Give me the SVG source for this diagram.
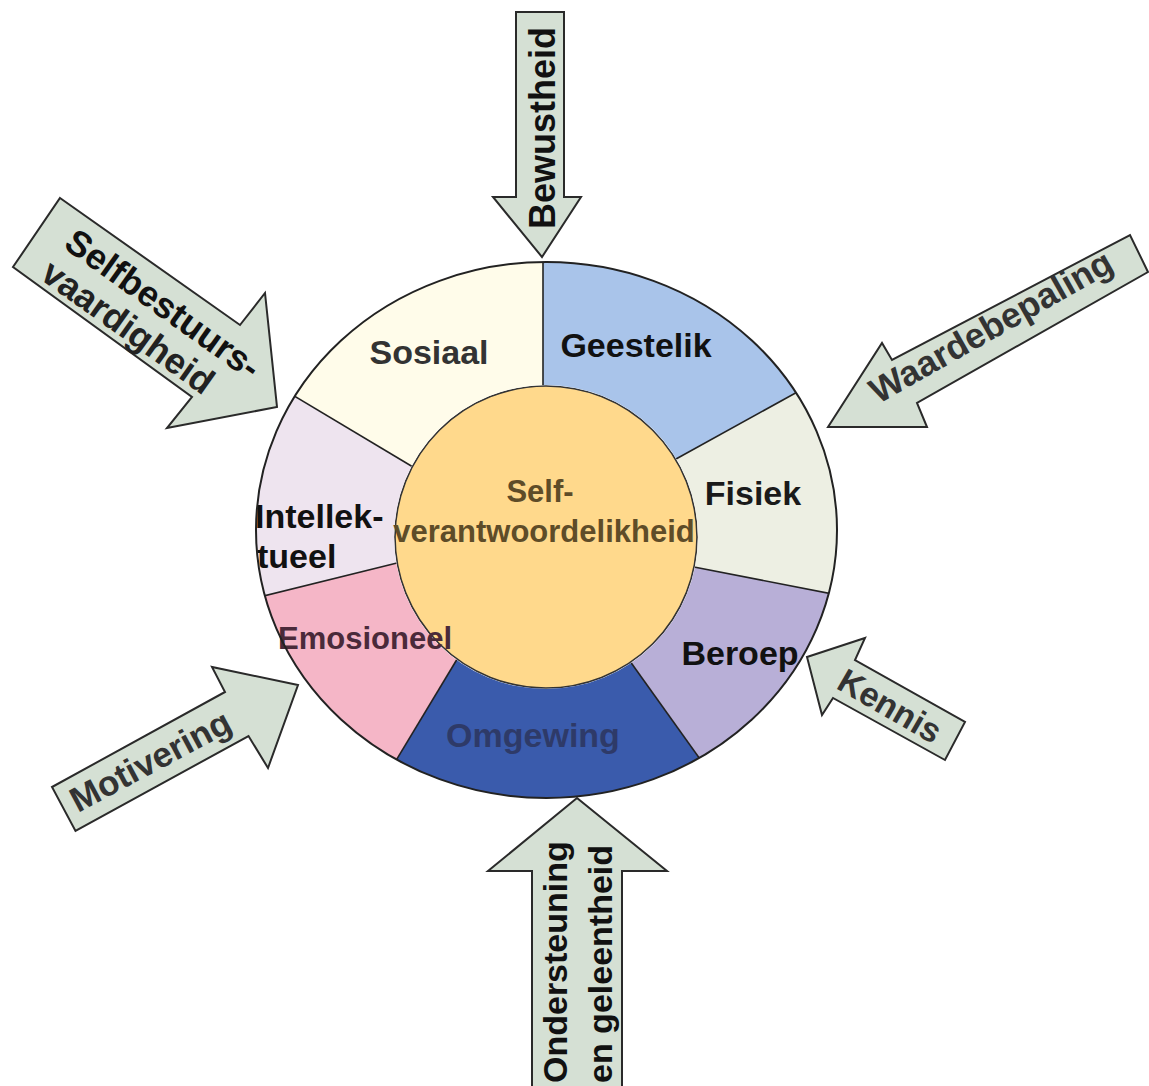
<svg xmlns="http://www.w3.org/2000/svg" width="1149" height="1086" viewBox="0 0 1149 1086">
<style>
.lbl{font-family:"Liberation Sans",Arial,Helvetica,sans-serif;font-weight:bold;font-size:34px;}
.mid{text-anchor:middle}
.arrow{fill:#D5E0D4;stroke:#2a2a2a;stroke-width:2;stroke-linejoin:miter}
.div{stroke:#222;stroke-width:1.6;fill:none}
.seg{stroke:none}
</style>
<defs>
<clipPath id="ring">
  <path clip-rule="evenodd" d="M256,530 a290.5,268 0 1,0 581,0 a290.5,268 0 1,0 -581,0 Z M394,537 a152,152 0 1,0 304,0 a152,152 0 1,0 -304,0 Z"/>
</clipPath>
</defs>
<rect width="1149" height="1086" fill="#ffffff"/>

<g id="center">
  <circle cx="546" cy="537" r="151" fill="#FFD98C" stroke="#333" stroke-width="1.6"/>
</g>

<g id="wheel">
  <g id="seg-geestelik">
    <polygon class="seg" clip-path="url(#ring)" fill="#A9C4EA" points="543,406 543,-238 1234,150 658.5,468.7"/>
    <text class="lbl mid" x="636" y="357" fill="#111">Geestelik</text>
  </g>
  <g id="seg-fisiek">
    <polygon class="seg" clip-path="url(#ring)" fill="#EDEFE3" points="658.5,468.7 1234,150 1325,689 674.4,563.2"/>
    <text class="lbl mid" x="753" y="505" fill="#1a1a1a">Fisiek</text>
  </g>
  <g id="seg-beroep">
    <polygon class="seg" clip-path="url(#ring)" fill="#B8AFD7" points="674.4,563.2 1325,689 989,1165 615.4,640.7"/>
    <text class="lbl mid" x="740" y="665" fill="#111">Beroep</text>
  </g>
  <g id="seg-omgewing">
    <polygon class="seg" clip-path="url(#ring)" fill="#3A5BAC" points="615.4,640.7 989,1165 143,1180 469.3,638.9"/>
    <text class="lbl mid" x="533" y="747" fill="#2E3A68">Omgewing</text>
  </g>
  <g id="seg-emosioneel">
    <polygon class="seg" clip-path="url(#ring)" fill="#F5B6C7" points="469.3,638.9 143,1180 -227,717 416.4,558.2"/>
    <text class="lbl mid" x="365" y="649" fill="#4A2A3A" style="font-size:31px">Emosioneel</text>
  </g>
  <g id="seg-intellektueel">
    <polygon class="seg" clip-path="url(#ring)" fill="#EEE4EF" points="416.4,558.2 -227,717 -140,137 430.2,477.2"/>
    <text class="lbl" x="255" y="528" fill="#111">Intellek-</text>
    <text class="lbl" x="257" y="568" fill="#111">tueel</text>
  </g>
  <g id="seg-sosiaal">
    <polygon class="seg" clip-path="url(#ring)" fill="#FFFCEA" points="430.2,477.2 -140,137 543,-238 543,406"/>
    <text class="lbl mid" x="429" y="364" fill="#333">Sosiaal</text>
  </g>
  <g id="dividers" clip-path="url(#ring)">
    <line class="div" x1="543" y1="386" x2="543" y2="200"/>
    <line class="div" x1="676" y1="459" x2="857" y2="359"/>
    <line class="div" x1="694" y1="567" x2="894" y2="606"/>
    <line class="div" x1="627" y1="657" x2="735" y2="808"/>
    <line class="div" x1="459" y1="656" x2="371" y2="802"/>
    <line class="div" x1="397" y1="563" x2="199" y2="612"/>
    <line class="div" x1="413" y1="467" x2="229" y2="357"/>
  </g>
  <ellipse cx="546.5" cy="530" rx="290.5" ry="268" fill="none" stroke="#222" stroke-width="2"/>
</g>

<g id="center-label">
  <text class="lbl mid" x="540" y="502" fill="#5E4C28" style="font-size:31px">Self-</text>
  <text class="lbl mid" x="544" y="542" fill="#5E4C28" style="font-size:31px">verantwoordelikheid</text>
</g>

<g id="connectors">
  <g id="arrow-bewustheid">
    <polygon class="arrow" points="516,12 564,12 564,197 581,197 542,257 493,197 516,197"/>
    <text class="lbl mid" transform="translate(555,128) rotate(-90)" fill="#111" style="font-size:36px">Bewustheid</text>
  </g>
  <g id="arrow-ondersteuning">
    <polygon class="arrow" points="577,798 667,871 622,871 622,1090 532,1090 532,871 488,871"/>
    <text class="lbl" transform="translate(567,1083) rotate(-90)" fill="#111">Ondersteuning</text>
    <text class="lbl" transform="translate(612,1083) rotate(-90)" fill="#111">en geleentheid</text>
  </g>
  <g id="arrow-selfbestuur">
    <polygon class="arrow" points="60,198 240,325 265,293 277,407 167,428 192,397 13,267"/>
    <text class="lbl mid" transform="translate(156,314) rotate(35.5)" fill="#111" style="font-size:36px">Selfbestuurs-</text>
    <text class="lbl mid" transform="translate(121,337) rotate(35.5)" fill="#222" style="font-size:36px">vaardigheid</text>
  </g>
  <g id="arrow-waardebepaling">
    <polygon class="arrow" points="828,427 882,343 892,360 1130,235 1148,272 917,403 927,427"/>
    <text class="lbl mid" transform="translate(997,337) rotate(-29.5)" fill="#333" style="font-size:35.5px">Waardebepaling</text>
  </g>
  <g id="arrow-motivering">
    <polygon class="arrow" points="298,685 212,667 225,692 52,787 75.5,831 248.5,736 268,768"/>
    <text class="lbl mid" transform="translate(156,771.5) rotate(-28)" fill="#333" style="font-size:35px">Motivering</text>
  </g>
  <g id="arrow-kennis">
    <polygon class="arrow" points="807,657 865,638 855,660 965,722 945,760 833,698 822,715"/>
    <text class="lbl mid" transform="translate(884,716) rotate(30)" fill="#333">Kennis</text>
  </g>
</g>
</svg>
